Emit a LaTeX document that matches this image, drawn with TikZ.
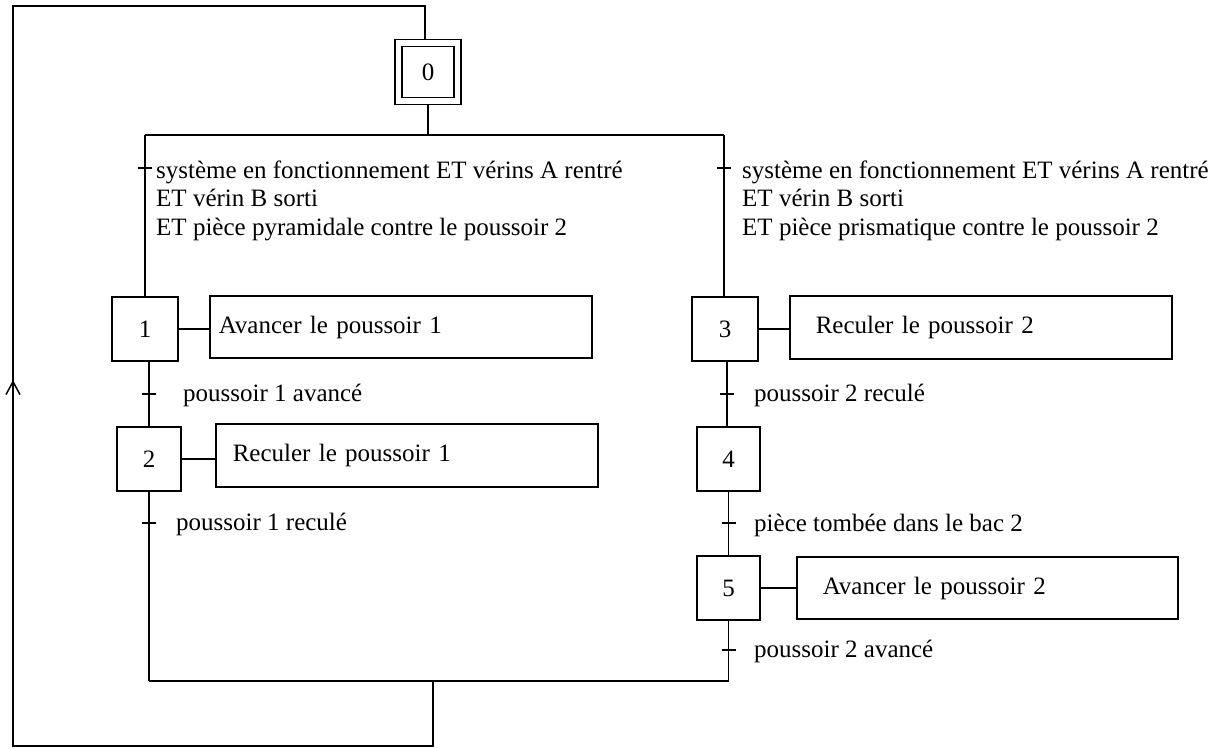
\documentclass[tikz,border=0pt]{standalone}
\usepackage{fontspec}
\setmainfont{Liberation Serif}
\usetikzlibrary{arrows.meta}
\begin{document}
\begin{tikzpicture}[x=1pt,y=-1pt,
  every node/.style={font=\fontsize{25}{28.5}\selectfont},
  ln/.style={line width=1.5pt},
  stepbox/.style={draw, line width=1.5pt, minimum width=65pt, minimum height=64pt, inner sep=0pt},
  initstep/.style={draw, double, double distance=5.5pt, line width=1.5pt, minimum width=59pt, minimum height=58pt, inner sep=0pt, outer sep=4.25pt},
  actbox/.style={draw, line width=1.5pt, anchor=west, align=left, inner ysep=0pt},
  cond/.style={anchor=base west, inner sep=0pt},
  condm/.style={anchor=north west, inner sep=0pt, align=left}
]
\useasboundingbox (0,0) rectangle (1221,749);

% steps
\node[initstep] (s0) at (428,72) {0};
\node[stepbox, minimum width=66pt] (s1) at (145,329) {1};
\node[stepbox, minimum width=64pt] (s2) at (149,459) {2};
\node[stepbox, minimum width=66pt] (s3) at (725,329) {3};
\node[stepbox, minimum width=63pt] (s4) at (728.5,459) {4};
\node[stepbox, minimum width=63pt] (s5) at (728.5,588) {5};

% actions
\node[actbox, minimum height=62pt, inner xsep=9pt, text width=364pt] (a1) at (209,327) {Avancer le poussoir 1};
\node[actbox, minimum height=63pt, inner xsep=17pt, text width=348pt] (a2) at (215,455.5) {Reculer le poussoir 1};
\node[actbox, minimum height=63pt, inner xsep=26pt, text width=330pt] (a3) at (789,327.5) {Reculer le poussoir 2};
\node[actbox, minimum height=62pt, inner xsep=26pt, text width=329pt] (a5) at (796,588) {Avancer le poussoir 2};

% coordinates
\coordinate (divL) at (145,135);
\coordinate (divR) at (724,135);
\coordinate (t0l) at (145,168);
\coordinate (t0r) at (724,168);
\coordinate (t1) at (149,394);
\coordinate (t2) at (149,523);
\coordinate (t3) at (727,394);
\coordinate (t4) at (728.5,523);
\coordinate (t5) at (728.5,650);
\coordinate (convL) at (149,681);
\coordinate (convR) at (728.5,681);
\coordinate (loopBR) at (433,746);
\coordinate (loopBL) at (13,746);
\coordinate (loopTL) at (13,6);
\coordinate (loopTR) at (425,6);
\coordinate (arrT) at (13,380);
\coordinate (arrB) at (13,400);

% connectors
\draw[ln] (s0.south) -- (s0.south |- divL);
\draw[ln] (divL) -- (divR);
\draw[ln] (divL) -- (s1.north -| divL);
\draw[ln] (divR) -- (s3.north -| divR);
\draw[ln] (s1.south -| t1) -- (s2.north -| t1);
\draw[ln] (s2.south -| t2) -- (convL);
\draw[ln] (s3.south -| t3) -- (s4.north -| t3);
\draw[ln] (s4.south) -- (s5.north);
\draw[ln] (s5.south) -- (convR);
\draw[ln] (convL) -- (convR);
\draw[ln] (convL -| loopBR) -- (loopBR) -- (loopBL) -- (loopTL) -- (loopTR) -- (s0.north -| loopTR);
\draw[ln, -{Straight Barb[length=13pt, width=14pt]}] (arrB) -- (arrT);

% action links
\draw[ln] (s1.east) -- (s1.east -| a1.west);
\draw[ln] (s2.east) -- (s2.east -| a2.west);
\draw[ln] (s3.east) -- (s3.east -| a3.west);
\draw[ln] (s5.east) -- (s5.east -| a5.west);

% transition ticks
\foreach \t in {t0l,t0r,t1,t2,t3,t4,t5}
  \draw[ln] ([xshift=-7pt]\t) -- ([xshift=7pt]\t);

% receptivities
\node[condm] (c0l) at (156,160.5) {système en fonctionnement ET vérins A rentré\\ET vérin B sorti\\ET pièce pyramidale contre le poussoir 2};
\node[condm] (c0r) at (742,160.5) {système en fonctionnement ET vérins A rentré\\ET vérin B sorti\\ET pièce prismatique contre le poussoir 2};
\node[cond] (c1) at (183,401) {poussoir 1 avancé};
\node[cond] (c2) at (176,530) {poussoir 1 reculé};
\node[cond] (c3) at (754,401) {poussoir 2 reculé};
\node[cond] (c4) at (754,531) {pièce tombée dans le bac 2};
\node[cond] (c5) at (754,657) {poussoir 2 avancé};
\end{tikzpicture}
\end{document}
